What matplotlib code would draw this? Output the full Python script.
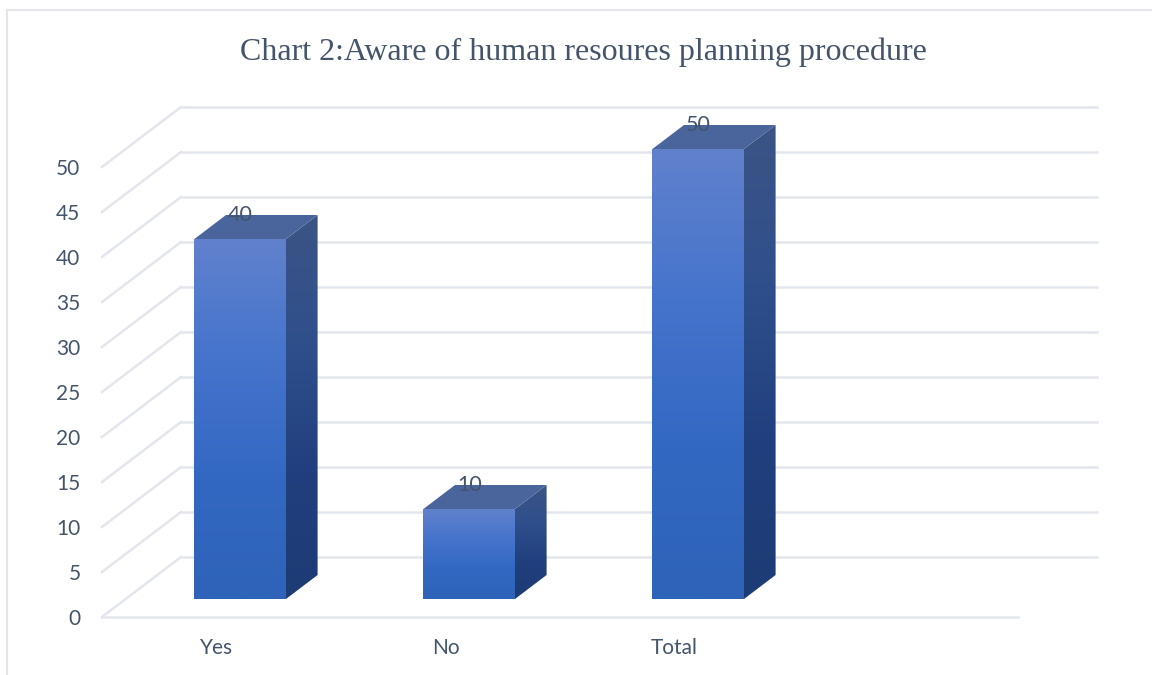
import numpy as np
import matplotlib
matplotlib.use('Agg')
import matplotlib.pyplot as plt
from matplotlib.colors import LinearSegmentedColormap
from matplotlib.image import AxesImage
from matplotlib.lines import Line2D
from matplotlib.patches import Polygon

categories = ['Yes', 'No', 'Total']
values = [40, 10, 50]
y_ticks = [0, 5, 10, 15, 20, 25, 30, 35, 40, 45, 50]
title = 'Chart 2:Aware of human resoures planning procedure'

W, H = 1152, 675
text_color = '#44546a'
grid_color = '#e3e6ed'

plt.rcParams['font.family'] = ['Lato', 'DejaVu Sans']

fig = plt.figure(figsize=(W / 100, H / 100), dpi=100)
ax = fig.add_axes([102 / W, 1 - 617 / H, 916 / W, 450 / H])

# depth of the fake 3d floor, in data units
depth_x = 79 / 229
depth_y = 60 / 9
bar_width = 0.4
front, back = 0.3, 0.7

face_cmap = LinearSegmentedColormap.from_list('face', ['#6181cd', '#4574cc', '#3368c2', '#2f63b9'])
side_cmap = LinearSegmentedColormap.from_list('side', ['#3c5485', '#2f4f8c', '#213f7e', '#1d3b74'])
gradient = np.linspace(0, 1, 256).reshape(-1, 1)

# grid: back wall lines and the slanted lines on the left side
for v in y_ticks:
    ax.plot([-0.5, -0.5 + depth_x], [v, v + depth_y], color=grid_color, lw=1.8, clip_on=False, zorder=1)
    ax.plot([-0.5 + depth_x, 3.5 + depth_x], [v + depth_y, v + depth_y], color=grid_color, lw=1.8,
            clip_on=False, zorder=1)
ax.plot([-0.5, 3.5], [0, 0], color=grid_color, lw=1.8, clip_on=False, zorder=1)


def gradient_poly(points, cmap, extent, z):
    im = ax.imshow(gradient, cmap=cmap, extent=extent, aspect='auto', origin='upper', zorder=z)
    patch = Polygon(points, closed=True, transform=ax.transData, facecolor='none', edgecolor='none')
    ax.add_patch(patch)
    im.set_clip_box(fig.bbox)  # bars stick out above the axes box
    im.set_clip_path(patch)


for i, (cat, val) in enumerate(zip(categories, values)):
    x0 = i - bar_width / 2 + front * depth_x
    x1 = i + bar_width / 2 + front * depth_x
    y0 = front * depth_y
    y1 = val + front * depth_y
    dx = (back - front) * depth_x
    dy = (back - front) * depth_y

    gradient_poly([(x0, y0), (x1, y0), (x1, y1), (x0, y1)], face_cmap, (x0, x1, y0, y1), 3)
    gradient_poly([(x1, y0), (x1 + dx, y0 + dy), (x1 + dx, y1 + dy), (x1, y1)], side_cmap,
                  (x1, x1 + dx, y0, y1 + dy), 3)
    ax.add_patch(Polygon([(x0, y1), (x1, y1), (x1 + dx, y1 + dy), (x0 + dx, y1 + dy)], closed=True,
                         facecolor='#4a649c', edgecolor='none', zorder=3, clip_on=False))
    ax.text(i + front * depth_x, y1 + dy, str(val), ha='center', va='center', fontsize=15.5,
            color=text_color, zorder=5, clip_on=False)

ax.set_xlim(-0.5, 3.5)
ax.set_ylim(0, 50)
for child in ax.get_children():
    if hasattr(child, 'set_clip_on') and not isinstance(child, AxesImage):
        child.set_clip_on(False)
ax.patch.set_visible(False)
for s in ax.spines.values():
    s.set_visible(False)
ax.set_xticks(range(len(categories)))
ax.set_xticklabels(categories, fontsize=15, color=text_color)
ax.set_yticks(y_ticks)
ax.set_yticklabels([str(t) for t in y_ticks], fontsize=15, color=text_color)
ax.tick_params(axis='both', length=0)
ax.tick_params(axis='x', pad=15)
ax.tick_params(axis='y', pad=15.5)

# title and outer frame of the chart
fig.text(583 / W, 1 - 52 / H, title, ha='center', va='center', fontsize=23,
         family='Liberation Serif', color=text_color)
fig.add_artist(Line2D([7 / W, 7 / W], [0, 1 - 10 / H], color=grid_color, lw=1.5))
fig.add_artist(Line2D([7 / W, 1], [1 - 10 / H, 1 - 10 / H], color=grid_color, lw=1.5))

fig.savefig('out.png', dpi=100)
